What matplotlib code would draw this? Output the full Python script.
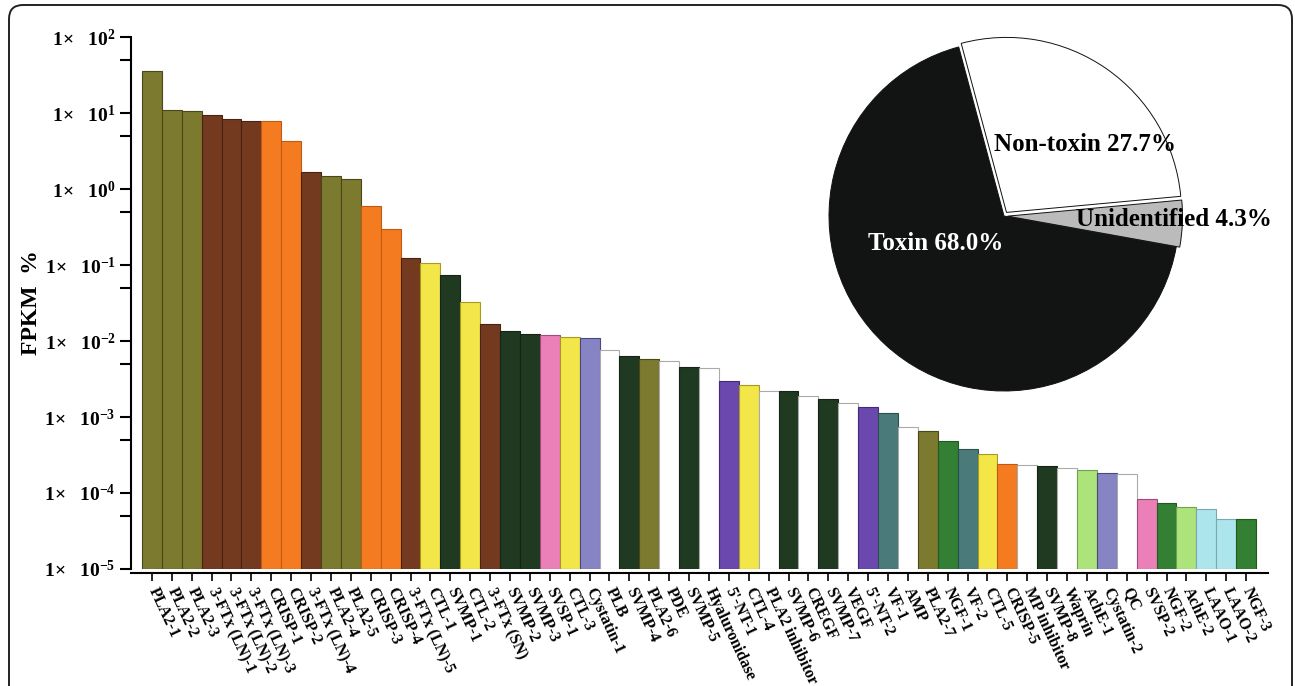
import math
import matplotlib
matplotlib.use("Agg")
import matplotlib.pyplot as plt
from matplotlib.ticker import FuncFormatter, LogLocator, NullFormatter
from matplotlib.patches import FancyBboxPatch
from matplotlib.transforms import IdentityTransform

# -------------------------------
# DATA
# -------------------------------
labels = ["PLA2-1", "PLA2-2", "PLA2-3", "3-FTx (LN)-1", "3-FTx (LN)-2", "3-FTx (LN)-3",
          "CRISP-1", "CRISP-2", "3-FTx (LN)-4", "PLA2-4", "PLA2-5", "CRISP-3", "CRISP-4",
          "3-FTx (LN)-5", "CTL-1", "SVMP-1", "CTL-2", "3-FTx (SN)", "SVMP-2", "SVMP-3",
          "SVSP-1", "CTL-3", "Cystatin-1", "PLB", "SVMP-4", "PLA2-6", "PDE", "SVMP-5",
          "Hyaluronidase", "5'-NT-1", "CTL-4", "PLA2 inhibitor", "SVMP-6", "CREGF", "SVMP-7",
          "VEGF", "5'-NT-2", "VF-1", "AMP", "PLA2-7", "NGF-1", "VF-2", "CTL-5", "CRISP-5",
          "MP inhibitor", "SVMP-8", "Waprin", "AchE-1", "Cystatin-2", "QC", "SVSP-2",
          "NGF-2", "AchE-2", "LAAO-1", "LAAO-2", "NGF-3"]

families = ["PLA2", "PLA2", "PLA2", "3FTx", "3FTx", "3FTx", "CRISP", "CRISP", "3FTx",
            "PLA2", "PLA2", "CRISP", "CRISP", "3FTx", "CTL", "SVMP", "CTL", "3FTx",
            "SVMP", "SVMP", "SVSP", "CTL", "Cystatin", "other", "SVMP", "PLA2", "other",
            "SVMP", "other", "5NT", "CTL", "other", "SVMP", "other", "SVMP", "other",
            "5NT", "VF", "other", "PLA2", "NGF", "VF", "CTL", "CRISP", "other", "SVMP",
            "other", "AchE", "Cystatin", "other", "SVSP", "NGF", "AchE", "LAAO", "LAAO", "NGF"]

fpkm = [35.7, 10.9, 10.5, 9.3, 8.3, 7.8, 7.8, 4.25, 1.66, 1.48, 1.36, 0.59, 0.30,
        0.124, 0.105, 0.074, 0.0323, 0.0166, 0.0135, 0.0122, 0.0119, 0.0114, 0.0109,
        0.0075, 0.0063, 0.0058, 0.0054, 0.00455, 0.00437, 0.00295, 0.00261, 0.00218,
        0.0022, 0.00187, 0.00172, 0.00151, 0.00133, 0.00111, 0.00073, 0.00065, 0.00048,
        0.000365, 0.000313, 0.000231, 0.000224, 0.000215, 0.000201, 0.000193, 0.000171,
        0.000166, 7.3e-5, 6.3e-5, 5.6e-5, 5.25e-5, 3.6e-5, 3.55e-5]

pie_labels = ["Non-toxin", "Unidentified", "Toxin"]
pie_values = [27.7, 4.3, 68.0]

# -------------------------------
# COLORS  (face, edge)
# -------------------------------
fam_colors = {
    "PLA2": ("#7b7a2f", "#4a4818"),
    "3FTx": ("#733a1f", "#4a2210"),
    "CRISP": ("#f47b20", "#c05a10"),
    "CTL": ("#f2e649", "#a89a20"),
    "SVMP": ("#1f3a20", "#142514"),
    "SVSP": ("#ea80b7", "#a04a7a"),
    "Cystatin": ("#8784c4", "#4a4880"),
    "other": ("#ffffff", "#aaaaaa"),
    "5NT": ("#6a48ae", "#44287a"),
    "VF": ("#4a7a7a", "#2a5050"),
    "NGF": ("#337f33", "#1f5a1f"),
    "AchE": ("#ace37a", "#70a050"),
    "LAAO": ("#ade5ec", "#7aa8b0"),
}
pie_colors = ["#ffffff", "#bbbbbb", "#111413"]

plt.rcParams['font.family'] = ['Liberation Serif', 'DejaVu Serif']
plt.rcParams['font.weight'] = 'bold'
plt.rcParams['mathtext.fontset'] = 'custom'
plt.rcParams['mathtext.rm'] = 'Liberation Serif:bold'
plt.rcParams['mathtext.bf'] = 'Liberation Serif:bold'
plt.rcParams['mathtext.it'] = 'Liberation Serif:bold'

fig = plt.figure(figsize=(12.95, 6.86), dpi=100)

# -------------------------------
# BAR CHART
# -------------------------------
ax = fig.add_axes([131 / 1295, 1 - 569 / 686, (1268 - 131) / 1295, (569 - 37) / 686])

# spines first (set_position resets the ticks)
ax.spines['top'].set_visible(False)
ax.spines['right'].set_visible(False)
ax.spines['left'].set_linewidth(1.5)
ax.spines['bottom'].set_linewidth(1.5)
ax.spines['bottom'].set_position(('outward', 3))

x = list(range(len(labels)))
faces = [fam_colors[f][0] for f in families]
edges = [fam_colors[f][1] for f in families]
ax.bar(x, fpkm, width=1.0, bottom=1e-5, color=faces, edgecolor=edges, linewidth=0.8)

ax.set_yscale('log')
ax.set_ylim(1e-5, 1e2)
ax.set_xlim(-1.05, 56.1)
ax.yaxis.set_major_locator(LogLocator(base=10, numticks=20))
ax.yaxis.set_minor_locator(LogLocator(base=10, subs=[5], numticks=20))
ax.yaxis.set_minor_formatter(NullFormatter())
ax.yaxis.set_major_formatter(FuncFormatter(lambda v, p: r'$1\!\times\ \ 10^{%d}$' % round(math.log10(v))))
ax.tick_params(axis='y', which='both', direction='out', length=8, width=1.5, labelsize=14, pad=3)
ax.tick_params(axis='x', direction='out', length=6, width=1.2, pad=5)

ax.set_xticks(x)
ax.set_xticklabels(labels, fontsize=11.5)
for t in ax.get_xticklabels():
    t.set_rotation(-65)
    t.set_rotation_mode('anchor')
    t.set_ha('left')
    t.set_va('center')

ax.set_ylabel("FPKM  %", fontsize=17, fontweight='bold', labelpad=2)

# -------------------------------
# PIE CHART (inset)
# -------------------------------
r = 175 * 1.06
pax = fig.add_axes([(1004 - r) / 1295, 1 - (216 + r) / 686, 2 * r / 1295, 2 * r / 686])
pax.pie(pie_values, colors=pie_colors, startangle=105, counterclock=False,
        explode=[0.025, 0.02, 0.0],
        wedgeprops=dict(edgecolor='#111111', linewidth=0.7))
pax.set_xlim(-1.06, 1.06)
pax.set_ylim(-1.06, 1.06)
pax.set_aspect('equal')
pax.axis('off')

text_pos = [(0.46, 0.41), (0.97, -0.02), (-0.39, -0.155)]
text_col = ['black', 'black', 'white']
for lab, val, pos, c in zip(pie_labels, pie_values, text_pos, text_col):
    pax.text(pos[0], pos[1], "%s %.1f%%" % (lab, val), ha='center', va='center',
             fontsize=18, fontweight='bold', color=c, clip_on=False)

# -------------------------------
# ROUNDED BORDER
# -------------------------------
border = FancyBboxPatch((9, -30), 1283, 711, boxstyle="round,pad=0,rounding_size=14",
                        transform=IdentityTransform(), fill=False, edgecolor='#222222',
                        linewidth=1.4)
fig.patches.append(border)

fig.savefig("out.png", dpi=100)
